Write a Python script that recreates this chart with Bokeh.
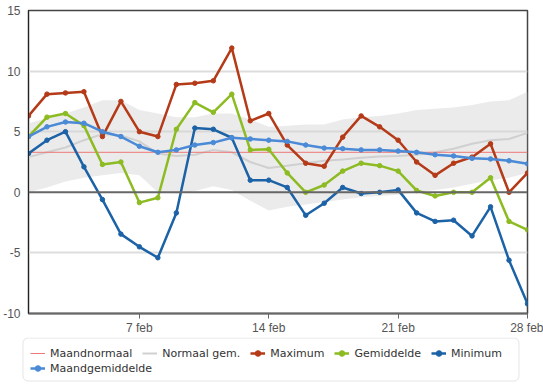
from bokeh.plotting import figure
from bokeh.layouts import column
from bokeh.models import Legend, LegendItem, Span, FixedTicker, Range1d, BoxAnnotation
from bokeh.embed import file_html
from bokeh.resources import INLINE

days = list(range(1, 29))
maximum = [6.3, 8.1, 8.2, 8.3, 4.6, 7.5, 5.0, 4.6, 8.9, 9.0, 9.2, 11.9, 5.9, 6.5,
           3.9, 2.4, 2.15, 4.55, 6.3, 5.4, 4.3, 2.5, 1.4, 2.4, 2.9, 4.0, 0.0, 1.6]
gemiddelde = [4.6, 6.2, 6.5, 5.5, 2.3, 2.5, -0.85, -0.45, 5.2, 7.4, 6.6, 8.1, 3.5, 3.55,
              1.6, 0.0, 0.6, 1.75, 2.4, 2.2, 1.75, 0.15, -0.3, 0.0, 0.0, 1.2, -2.4, -3.1]
minimum = [3.2, 4.3, 5.0, 2.1, -0.6, -3.45, -4.5, -5.4, -1.7, 5.3, 5.2, 4.5, 1.0, 1.0,
           0.4, -1.9, -0.9, 0.4, -0.1, 0.0, 0.2, -1.7, -2.4, -2.3, -3.6, -1.2, -5.6, -9.2]
maandgemiddelde = [4.6, 5.4, 5.8, 5.7, 5.0, 4.6, 3.8, 3.3, 3.5, 3.9, 4.1, 4.5, 4.4, 4.3,
                   4.2, 3.9, 3.65, 3.6, 3.5, 3.5, 3.4, 3.3, 3.1, 3.0, 2.8, 2.75, 2.6, 2.35]
normaal_gem = [2.9, 3.3, 3.7, 4.3, 4.8, 4.7, 4.2, 3.2, 3.0, 3.1, 3.5, 3.3, 2.5, 2.0,
               2.2, 2.4, 2.6, 2.7, 2.85, 2.95, 3.0, 3.1, 3.3, 3.6, 4.0, 4.3, 4.4, 4.9]
band_hi = [5.7, 6.1, 6.5, 7.0, 7.6, 7.6, 6.8, 6.5, 6.2, 6.2, 6.5, 6.5, 6.0, 5.4,
           5.5, 5.6, 5.6, 6.0, 6.2, 6.3, 6.5, 6.8, 6.9, 7.0, 7.2, 7.5, 7.6, 8.3]
band_lo = [0.0, 0.4, 0.9, 1.2, 1.4, 1.6, 1.4, 0.0, -0.1, 0.1, 0.5, 0.2, -0.7, -1.5,
           -1.2, -1.0, -0.8, -0.6, -0.4, -0.3, -0.2, 0.0, 0.2, 0.4, 0.7, 1.0, 1.2, 1.6]
maandnormaal_days = [1, 28]
maandnormaal = [3.3, 3.3]
x_ticks = [7, 14, 21, 28]
x_tick_labels = ["7 feb", "14 feb", "21 feb", "28 feb"]
y_ticks = [-10, -5, 0, 5, 10, 15]
y_tick_labels = ["-10", "-5", "0", "5", "10", "15"]

p = figure(width=543, height=337, output_backend="svg", toolbar_location=None,
           x_range=Range1d(1, 28), y_range=Range1d(-10, 15),
           min_border_left=23, min_border_right=16, min_border_top=10, min_border_bottom=22)
p.background_fill_color = "white"
p.border_fill_color = "white"
p.outline_line_color = "#444444"
p.outline_line_width = 1.5

band = p.varea(x=days, y1=band_lo, y2=band_hi, fill_color="#d2d2d2", fill_alpha=0.45)
zero = Span(location=0, dimension="width", line_color="#666666", line_width=2)
p.add_layout(zero)

p.line(days, normaal_gem, line_color="#d0d0d0", line_width=2)
p.line(maandnormaal_days, maandnormaal, line_color="#ee7777", line_width=1)

series = [
    ("Maximum", maximum, "#b43a18"),
    ("Gemiddelde", gemiddelde, "#8cbb22"),
    ("Minimum", minimum, "#1c62a6"),
    ("Maandgemiddelde", maandgemiddelde, "#4a8ad6"),
]
for name, vals, col in series:
    p.line(days, vals, line_color=col, line_width=2.5)
    p.scatter(days, vals, size=4.5, fill_color=col, line_color=col)

p.xaxis.ticker = FixedTicker(ticks=x_ticks)
p.xaxis.major_label_overrides = dict(zip(x_ticks, x_tick_labels))
p.xaxis.axis_line_color = "#666666"
p.xaxis.axis_line_width = 2
p.xaxis.major_tick_line_color = "#666666"
p.xaxis.major_tick_out = 5
p.xaxis.major_tick_in = 0
p.xaxis.minor_tick_line_color = None
p.xaxis.major_label_text_font = "Liberation Sans"
p.xaxis.major_label_text_font_size = "12px"
p.xaxis.major_label_text_color = "#555555"
p.xaxis.major_label_standoff = 2

p.yaxis.ticker = FixedTicker(ticks=y_ticks)
p.yaxis.major_label_overrides = dict(zip(y_ticks, y_tick_labels))
p.yaxis.axis_line_color = "#222222"
p.yaxis.major_tick_line_color = None
p.yaxis.minor_tick_line_color = None
p.yaxis.major_label_text_font = "Liberation Sans"
p.yaxis.major_label_text_font_size = "12px"
p.yaxis.major_label_text_color = "#555555"
p.yaxis.major_label_standoff = 2

p.xgrid.visible = False
p.ygrid.ticker = FixedTicker(ticks=[-5, 5, 10])
p.ygrid.grid_line_color = "#dddddd"
p.ygrid.grid_line_width = 2

# legend panel (separate small figure, frame = whole canvas, 1 unit = 1 px)
LW, LH = 543, 48
lg = figure(width=LW, height=LH, output_backend="svg", toolbar_location=None,
            x_range=Range1d(0, LW), y_range=Range1d(0, LH),
            min_border=0, x_axis_location=None, y_axis_location=None)
lg.frame_align = False
lg.outline_line_color = None
lg.xgrid.visible = False
lg.ygrid.visible = False
lg.add_layout(BoxAnnotation(left=22.5, right=518.5, bottom=4.5, top=47.5,
                            fill_color="white", fill_alpha=1,
                            line_color="#aaaaaa", line_width=1, border_radius=5))

nan = float("nan")

def legend_item(name, col, width, marker):
    r = [lg.line([nan], [nan], line_color=col, line_width=width)]
    if marker:
        r.append(lg.scatter([nan], [nan], size=4.5, fill_color=col, line_color=col))
    return LegendItem(label=name, renderers=r)

row1 = [legend_item("Maandnormaal", "#ee7777", 1, False),
        legend_item("Normaal gem.", "#d0d0d0", 2, False)]
row1 += [legend_item(n, c, 2.5, True) for n, v, c in series[:3]]
row2 = [legend_item(n, c, 2.5, True) for n, v, c in series[3:]]

common = dict(orientation="horizontal", label_text_font="DejaVu Sans",
              label_text_font_size="11px", label_text_color="#333333",
              glyph_width=15, glyph_height=14, label_height=14, label_standoff=5,
              spacing=10, padding=0, margin=0, border_line_color=None,
              background_fill_alpha=0)
lg.add_layout(Legend(items=row1, location=(30, 25), **common))
lg.add_layout(Legend(items=row2, location=(30, 10), **common))

open("out.html", "w").write(file_html(column(p, lg, spacing=0), INLINE))
